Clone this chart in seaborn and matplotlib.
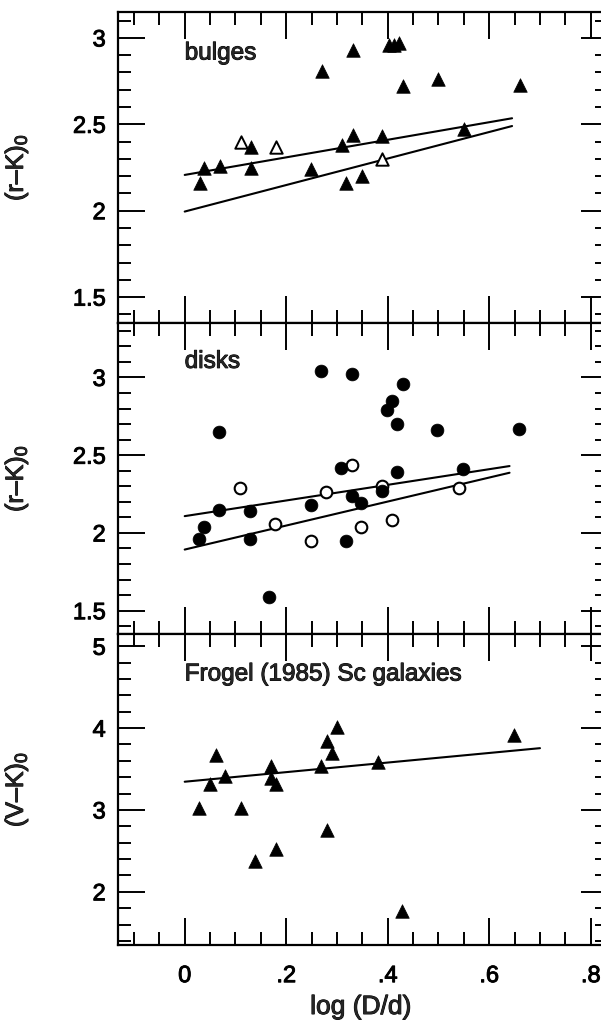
import matplotlib
matplotlib.use("Agg")
import matplotlib.pyplot as plt
import matplotlib.patheffects as pe
import seaborn as sns
import pandas as pd
from matplotlib.ticker import MultipleLocator, FuncFormatter

# ---------------- data ----------------
bulge_fill_x = [0.031, 0.039, 0.070, 0.130, 0.130, 0.249, 0.271, 0.310, 0.318, 0.331,
                0.331, 0.349, 0.389, 0.402, 0.412, 0.422, 0.430, 0.500, 0.550, 0.660]
bulge_fill_y = [2.16, 2.25, 2.26, 2.25, 2.37, 2.24, 2.81, 2.38, 2.16, 2.93,
                2.44, 2.20, 2.43, 2.96, 2.96, 2.97, 2.72, 2.76, 2.47, 2.73]
bulge_open_x = [0.110, 0.180, 0.389]
bulge_open_y = [2.40, 2.37, 2.30]
bulge_fit1_x = [0.0, 0.645]
bulge_fit1_y = [2.207, 2.535]
bulge_fit2_x = [0.0, 0.645]
bulge_fit2_y = [1.995, 2.49]

disk_fill_x = [0.028, 0.038, 0.068, 0.068, 0.128, 0.128, 0.167, 0.248, 0.268, 0.307,
               0.317, 0.330, 0.330, 0.348, 0.389, 0.399, 0.408, 0.418, 0.418, 0.430,
               0.498, 0.548, 0.659]
disk_fill_y = [1.96, 2.04, 2.65, 2.15, 2.14, 1.96, 1.59, 2.18, 3.04, 2.42,
               1.95, 3.02, 2.24, 2.19, 2.27, 2.79, 2.85, 2.70, 2.39, 2.96,
               2.66, 2.41, 2.67]
disk_open_x = [0.108, 0.177, 0.248, 0.278, 0.330, 0.348, 0.389, 0.408, 0.540]
disk_open_y = [2.29, 2.06, 1.95, 2.26, 2.44, 2.04, 2.30, 2.08, 2.29]
disk_fit1_x = [0.0, 0.64]
disk_fit1_y = [2.108, 2.43]
disk_fit2_x = [0.0, 0.64]
disk_fit2_y = [1.893, 2.387]

frogel_x = [0.029, 0.049, 0.061, 0.080, 0.110, 0.139, 0.170, 0.170, 0.180, 0.180,
            0.269, 0.280, 0.280, 0.290, 0.301, 0.381, 0.429, 0.648]
frogel_y = [3.02, 3.32, 3.67, 3.41, 3.02, 2.38, 3.54, 3.39, 3.32, 2.52,
            3.54, 3.84, 2.75, 3.69, 4.01, 3.58, 1.77, 3.91]
frogel_fit_x = [0.0, 0.70]
frogel_fit_y = [3.345, 3.755]

panel_titles = ["bulges", "disks", "Frogel (1985) Sc galaxies"]
y_labels = ["(r\u2013K)$_0$", "(r\u2013K)$_0$", "(V\u2013K)$_0$"]
x_label = "log (D/d)"

# ---------------- style ----------------
sns.set_style("ticks")
plt.rcParams["font.family"] = ["Liberation Sans", "DejaVu Sans"]
plt.rcParams["mathtext.fontset"] = "custom"
plt.rcParams["mathtext.rm"] = "Liberation Sans"
plt.rcParams["mathtext.default"] = "regular"

heavy = [pe.withStroke(linewidth=0.7, foreground="black")]

W, H = 601, 1025
fig = plt.figure(figsize=(W / 100, H / 100), dpi=100)
left_px, right_px = 117.5, 608.0
top0, ph = 12.0, 311.0

ylims = [(1.35, 3.15), (1.35, 3.35), (1.35, 5.15)]
ymaj = [0.5, 0.5, 1.0]
ymin = [0.1, 0.1, 0.2]
title_y = [2.91, 3.10, 4.655]

fit_sets = [
    [(bulge_fit1_x, bulge_fit1_y), (bulge_fit2_x, bulge_fit2_y)],
    [(disk_fit1_x, disk_fit1_y), (disk_fit2_x, disk_fit2_y)],
    [(frogel_fit_x, frogel_fit_y)],
]

xfmt = FuncFormatter(lambda v, p: "0" if abs(v) < 1e-9 else ("%.1f" % v).replace("0.", "."))
yfmt = FuncFormatter(lambda v, p: "%g" % round(v, 2))

axes = []
for i in range(3):
    top = top0 + i * ph
    ax = fig.add_axes([left_px / W, 1 - (top + ph) / H, (right_px - left_px) / W, ph / H])
    axes.append(ax)

    for fx, fy in fit_sets[i]:
        sns.lineplot(x=fx, y=fy, color="black", linewidth=1.5, ax=ax, zorder=2)

    if i == 0:
        sns.scatterplot(x=bulge_open_x, y=bulge_open_y, marker="^", s=80,
                        color="white", edgecolor="black", linewidth=1.4, ax=ax, zorder=3)
        sns.scatterplot(x=bulge_fill_x, y=bulge_fill_y, marker="^", s=95,
                        color="black", edgecolor="black", linewidth=0.5, ax=ax, zorder=4)
    elif i == 1:
        sns.scatterplot(x=disk_open_x, y=disk_open_y, marker="o", s=70,
                        color="white", edgecolor="black", linewidth=1.5, ax=ax, zorder=3)
        sns.scatterplot(x=disk_fill_x, y=disk_fill_y, marker="o", s=85,
                        color="black", edgecolor="black", linewidth=0.5, ax=ax, zorder=4)
    else:
        sns.scatterplot(x=frogel_x, y=frogel_y, marker="^", s=95,
                        color="black", edgecolor="black", linewidth=0.5, ax=ax, zorder=4)

    ax.set_xlim(-0.1324, 0.834)
    ax.set_ylim(*ylims[i])
    ax.xaxis.set_major_locator(MultipleLocator(0.2))
    ax.xaxis.set_minor_locator(MultipleLocator(0.05))
    ax.yaxis.set_major_locator(MultipleLocator(ymaj[i]))
    ax.yaxis.set_minor_locator(MultipleLocator(ymin[i]))
    ax.xaxis.set_major_formatter(xfmt)
    ax.yaxis.set_major_formatter(yfmt)
    ax.tick_params(which="both", direction="in", top=True, right=True,
                   width=1.4, colors="black", labelsize=17)
    ax.tick_params(which="major", length=19.5)
    ax.tick_params(which="minor", length=9.7)
    ax.tick_params(axis="y", pad=8.5)
    ax.tick_params(axis="x", pad=14.5)
    for sp in ax.spines.values():
        sp.set_linewidth(1.6)
        sp.set_color("black")

    t = ax.text(0.0, title_y[i], panel_titles[i], fontsize=17.5, ha="left", va="center")
    t.set_path_effects(heavy)
    yl = ax.set_ylabel(y_labels[i], fontsize=18)
    yl.set_path_effects(heavy)
    ax.yaxis.set_label_coords(-(left_px - 30) / (right_px - left_px), 0.5)
    if i < 2:
        ax.tick_params(labelbottom=False)
        ax.set_xlabel("")
    else:
        xl = ax.set_xlabel(x_label, fontsize=19, va="top")
        xl.set_path_effects(heavy)
        ax.xaxis.set_label_coords((360.8 - left_px) / (right_px - left_px), -(995 - 945) / ph)

fig.canvas.draw()
for ax in axes:
    for lab in ax.get_xticklabels() + ax.get_yticklabels():
        lab.set_path_effects(heavy)

fig.savefig("out.png", dpi=100)
